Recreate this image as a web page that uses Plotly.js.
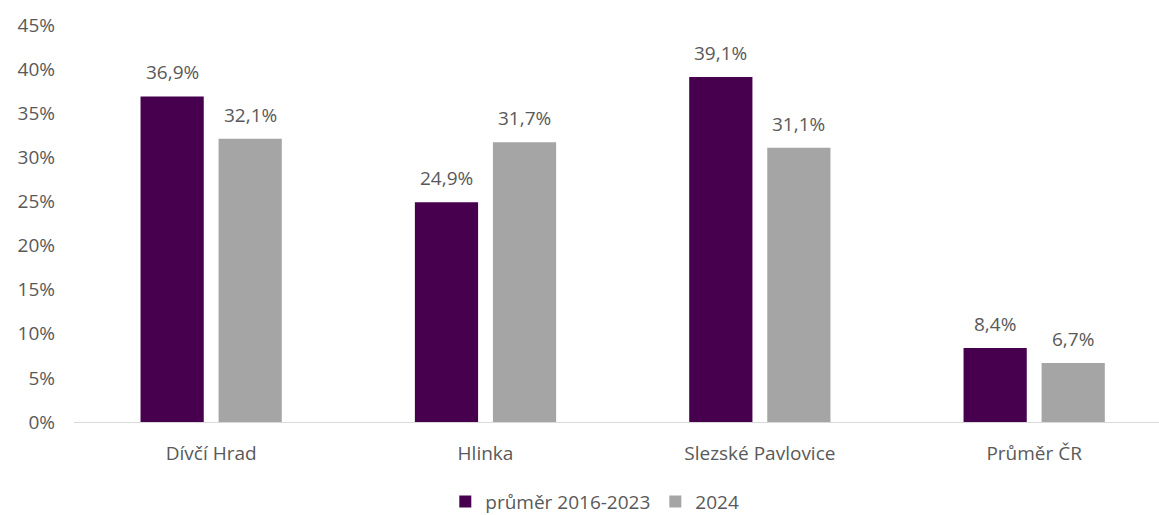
<!DOCTYPE html>
<html>
<head>
<meta charset="utf-8">
<script src="https://cdn.plot.ly/plotly-3.0.1.min.js"></script>
<style>
  html, body { margin: 0; padding: 0; background: #fff; }
  #chart { width: 1159px; height: 515px; }
</style>
</head>
<body>
<div id="chart"></div>
<script>
var categories = ['Dívčí Hrad', 'Hlinka', 'Slezské Pavlovice', 'Průměr ČR'];
var avgValues = [0.369, 0.249, 0.391, 0.084];
var year2024Values = [0.321, 0.317, 0.311, 0.067];
var seriesNames = ['průměr 2016-2023', '2024'];
var yTicks = [0, 0.05, 0.1, 0.15, 0.2, 0.25, 0.3, 0.35, 0.4, 0.45];

var fontFamily = 'Open Sans, Liberation Sans, sans-serif';
var textColor = '#595959';
var fontSize = 19;

function barTrace(name, values, color) {
    return {
        type: 'bar',
        name: name,
        x: categories,
        y: values,
        marker: { color: color },
        hoverinfo: 'skip'
    };
}

// data labels as annotations so the gap above the bar can be tuned
function labelsFor(values, offset) {
    return values.map(function (v, i) {
        return {
            x: i + offset,
            y: v,
            xref: 'x',
            yref: 'y',
            text: (v * 100).toFixed(1).replace('.', ',') + '%',
            showarrow: false,
            yanchor: 'bottom',
            yshift: 9,
            font: { family: fontFamily, size: fontSize, color: textColor }
        };
    });
}

var data = [
    barTrace(seriesNames[0], avgValues, '#46004E'),
    barTrace(seriesNames[1], year2024Values, '#A5A5A5')
];

var layout = {
    width: 1159,
    height: 515,
    margin: { l: 74, r: 0, t: 25, b: 93 },
    paper_bgcolor: '#ffffff',
    plot_bgcolor: '#ffffff',
    barmode: 'group',
    bargap: 0.431,
    bargroupgap: 0.19,
    separators: ',.',
    font: { family: fontFamily, size: fontSize, color: textColor },
    xaxis: {
        range: [-0.5, 3.455],
        automargin: false,
        showline: true,
        linecolor: '#D9D9D9',
        linewidth: 1,
        showgrid: false,
        ticks: '',
        ticklabelstandoff: 14,
        tickfont: { family: fontFamily, size: fontSize, color: textColor }
    },
    yaxis: {
        range: [0, 0.45],
        automargin: false,
        tickvals: yTicks,
        tickformat: '.0%',
        showgrid: false,
        zeroline: false,
        showline: false,
        ticks: '',
        ticklabelstandoff: 18,
        tickfont: { family: fontFamily, size: fontSize, color: textColor }
    },
    showlegend: true,
    legend: {
        orientation: 'h',
        x: 0.48,
        xanchor: 'center',
        yref: 'container',
        y: 0.026,
        yanchor: 'middle',
        font: { family: fontFamily, size: fontSize, color: textColor },
        itemwidth: 30,
        traceorder: 'normal'
    },
    annotations: labelsFor(avgValues, -0.142).concat(labelsFor(year2024Values, 0.142))
};

Plotly.newPlot('chart', data, layout, { displayModeBar: false, staticPlot: true });
</script>
</body>
</html>
